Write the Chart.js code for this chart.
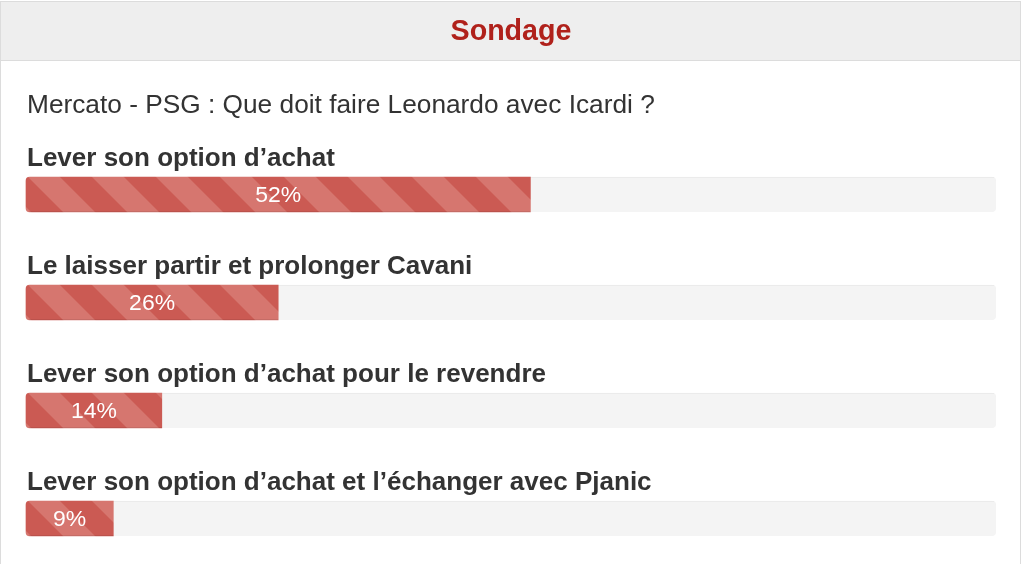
<!DOCTYPE html>
<html>
<head>
<meta charset="utf-8">
<script src="https://cdn.jsdelivr.net/npm/chart.js@4/dist/chart.umd.min.js"></script>
<style>
  html, body { margin: 0; padding: 0; background: #fff; width: 1024px; height: 564px; overflow: hidden; }
  #panel { position: absolute; left: 0; top: 1px; width: 1021px; height: 600px; border-left: 1px solid #dcdcdc; border-right: 1px solid #dcdcdc; border-top: 1px solid #dcdcdc; box-sizing: border-box; }
  #head { height: 59px; background: #eeeeee; border-bottom: 1px solid #dcdcdc; box-sizing: border-box; }
  #wrap { position: absolute; left: 0; top: 0; width: 1024px; height: 564px; }
  canvas { display: block; }
</style>
</head>
<body>
<div id="panel"><div id="head"></div></div>
<div id="wrap"><canvas id="c" width="1024" height="564"></canvas></div>
<script>
const pollTitle = "Sondage";
const question = "Mercato - PSG : Que doit faire Leonardo avec Icardi ?";
const choices = [
  "Lever son option d\u2019achat",
  "Le laisser partir et prolonger Cavani",
  "Lever son option d\u2019achat pour le revendre",
  "Lever son option d\u2019achat et l\u2019\u00e9changer avec Pjanic"
];
const percents = [52, 26, 14, 9];
const fullScale = [100, 100, 100, 100];

const FAMILY = '"Liberation Sans", Arial, sans-serif';
const DARK = '#cb5a53';
const LIGHT = '#d6766f';

// fit a font size so the text spans a given width
const measureCtx = document.createElement('canvas').getContext('2d');
function fitSize(text, weight, targetW) {
  measureCtx.font = weight + ' 100px ' + FAMILY;
  return 100 * targetW / measureCtx.measureText(text).width;
}
const titleSize = fitSize(pollTitle, 'bold', 121);
const questionSize = fitSize(question, 'normal', 628);
const labelSize = fitSize(choices[0], 'bold', 308);
const pctSize = fitSize('52%', 'normal', 46);

function makeTile() {
  const t = document.createElement('canvas');
  t.width = 64; t.height = 64;
  const g = t.getContext('2d');
  g.fillStyle = DARK;
  g.fillRect(0, 0, 64, 64);
  g.fillStyle = LIGHT;
  for (let o = -128; o <= 128; o += 64) {
    const a = o + 2;
    g.beginPath();
    g.moveTo(a, 0);
    g.lineTo(a + 32, 0);
    g.lineTo(a + 32 + 64, 64);
    g.lineTo(a + 64, 64);
    g.closePath();
    g.fill();
  }
  return t;
}
const tile = makeTile();

function stripeFor(ctx) {
  const chart = ctx.chart;
  const xs = chart.scales.x, ys = chart.scales.y;
  if (!xs || !ys || ctx.dataIndex === undefined) return DARK;
  const pat = chart.ctx.createPattern(tile, 'repeat');
  const left = xs.getPixelForValue(0);
  const top = ys.getPixelForValue(ctx.dataIndex) - 17.5;
  pat.setTransform(new DOMMatrix().translate(left, top));
  return pat;
}

const labelPlugin = {
  id: 'pollLabels',
  afterDraw(chart) {
    const c = chart.ctx;
    const meta = chart.getDatasetMeta(0);
    const xs = chart.scales.x;
    c.save();
    c.textBaseline = 'middle';
    c.fillStyle = '#b0211b';
    c.font = 'bold ' + titleSize + 'px ' + FAMILY;
    c.textAlign = 'center';
    c.fillText(pollTitle, 511, 32);
    c.fillStyle = '#333333';
    c.font = questionSize + 'px ' + FAMILY;
    c.textAlign = 'left';
    c.fillText(question, 27, 106);
    meta.data.forEach((bar, i) => {
      c.fillStyle = 'rgba(0,0,0,0.08)';
      c.fillRect(bar.base + 3, bar.y + 16.5, bar.x - bar.base - 3, 1);
      c.fillStyle = '#333333';
      c.font = 'bold ' + labelSize + 'px ' + FAMILY;
      c.textAlign = 'left';
      c.textBaseline = 'middle';
      c.fillText(choices[i], xs.left + 1, bar.y - 35.5);
      c.fillStyle = '#ffffff';
      c.font = pctSize + 'px ' + FAMILY;
      c.textAlign = 'center';
      c.fillText(percents[i] + '%', (bar.x + bar.base) / 2, bar.y + 1);
    });
    c.restore();
  }
};

new Chart(document.getElementById('c'), {
  type: 'bar',
  data: {
    labels: choices,
    datasets: [
      {
        data: percents,
        backgroundColor: stripeFor,
        borderWidth: 0,
        borderSkipped: false,
        borderRadius: { topLeft: 4, bottomLeft: 4, topRight: 0, bottomRight: 0 },
        barThickness: 35,
        grouped: false,
        clip: false
      },
      {
        data: fullScale,
        backgroundColor: '#f4f4f4',
        borderColor: '#e8e8e8',
        borderWidth: { top: 1, left: 0, right: 0, bottom: 0 },
        borderSkipped: false,
        borderRadius: 4,
        barThickness: 35,
        grouped: false,
        clip: false
      }
    ]
  },
  options: {
    indexAxis: 'y',
    responsive: false,
    animation: false,
    events: [],
    layout: { padding: { left: 26, right: 28, top: 194.5, bottom: 45.5 } },
    scales: {
      x: { min: 0, max: 100, display: false },
      y: { type: 'category', offset: false, display: false }
    },
    plugins: { legend: { display: false }, tooltip: { enabled: false }, title: { display: false } }
  },
  plugins: [labelPlugin]
});
</script>
</body>
</html>
